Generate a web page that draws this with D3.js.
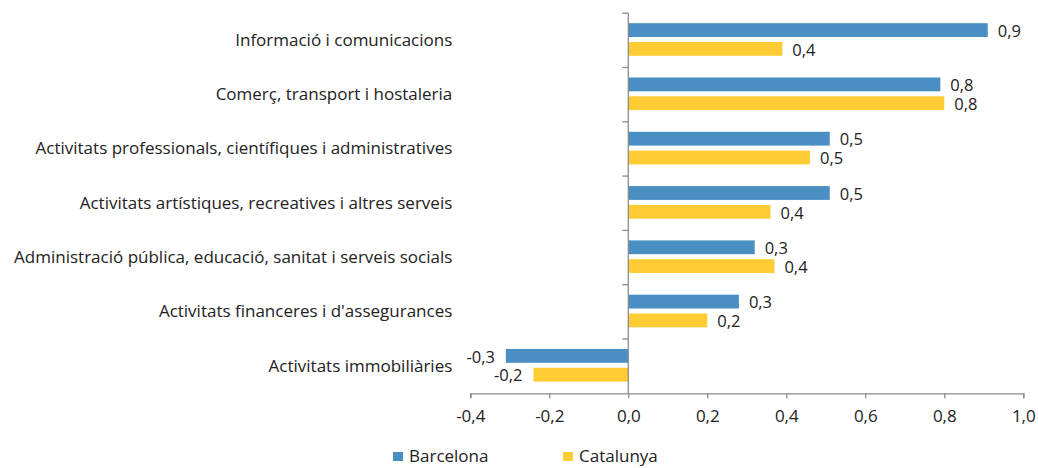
<!DOCTYPE html>
<html>
<head>
<meta charset="utf-8">
<script src="https://cdn.jsdelivr.net/npm/d3@7"></script>
<style>
  html, body { margin: 0; padding: 0; background: #fff; }
  svg { display: block; font-family: "Open Sans", sans-serif; }
  .lbl { font-size: 17px; fill: #222; }
  .val { font-size: 16.5px; fill: #222; }
</style>
</head>
<body>
<svg id="chart" width="1038" height="468"></svg>
<script>
// categories, top to bottom
var categories = [
  "Informació i comunicacions",
  "Comerç, transport i hostaleria",
  "Activitats professionals, científiques i administratives",
  "Activitats artístiques, recreatives i altres serveis",
  "Administració pública, educació, sanitat i serveis socials",
  "Activitats financeres i d'assegurances",
  "Activitats immobiliàries"
]
var seriesNames = ["Barcelona", "Catalunya"]
var barcelona = [0.91, 0.79, 0.51, 0.51, 0.32, 0.28, -0.31]
var catalunya = [0.39, 0.80, 0.46, 0.36, 0.37, 0.20, -0.24]
var xTicks = [-0.4, -0.2, 0.0, 0.2, 0.4, 0.6, 0.8, 1.0]

var colors = { Barcelona: '#4a8fc3', Catalunya: '#ffcc35' }
var axisColor = '#8c8c8c'

var svg = d3.select('#chart')
// excel style: comma decimal, plain hyphen for minus
var fmt = function(v) { return d3.format('.1f')(v).replace('.', ',').replace('\u2212', '-') }

var x = d3.scaleLinear().domain([-0.4, 1.0]).range([470.3, 1023.3])
var y = d3.scaleBand().domain(categories).range([13.2, 393.3]).padding(0)
var ySeries = d3.scaleBand().domain(seriesNames).range([10, 42.6]).paddingInner(0.266)

var rows = categories.map(function(c, i) {
  return { cat: c, values: [
    { name: 'Barcelona', v: barcelona[i] },
    { name: 'Catalunya', v: catalunya[i] }
  ] }
})

// bars
var groups = svg.append('g').selectAll('g')
  .data(rows).join('g')
  .attr('transform', function(d) { return 'translate(0,' + y(d.cat) + ')' })

groups.selectAll('rect')
  .data(function(d) { return d.values }).join('rect')
  .attr('x', function(d) { return x(Math.min(0, d.v)) })
  .attr('width', function(d) { return Math.abs(x(d.v) - x(0)) })
  .attr('y', function(d) { return ySeries(d.name) })
  .attr('height', ySeries.bandwidth())
  .attr('fill', function(d) { return colors[d.name] })

// data labels
groups.selectAll('text')
  .data(function(d) { return d.values }).join('text')
  .attr('class', 'val')
  .attr('x', function(d) { return d.v < 0 ? x(d.v) - 11 : x(d.v) + 10 })
  .attr('y', function(d) { return ySeries(d.name) + ySeries.bandwidth() / 2 + 1 })
  .attr('dy', '0.35em')
  .attr('text-anchor', function(d) { return d.v < 0 ? 'end' : 'start' })
  .text(function(d) { return fmt(d.v) })

// x axis
var xAxis = svg.append('g')
  .attr('transform', 'translate(0,' + 393.3 + ')')
  .call(d3.axisBottom(x).tickValues(xTicks).tickFormat(fmt).tickSize(5).tickSizeOuter(5).tickPadding(12))
  .attr('font-family', null).attr('font-size', null)
xAxis.selectAll('path, line').attr('stroke', axisColor).attr('stroke-width', 1.3)
xAxis.selectAll('text').attr('class', 'lbl')

// y axis line and band boundary ticks
var yAxisG = svg.append('g')
yAxisG.append('line')
  .attr('x1', x(0)).attr('x2', x(0))
  .attr('y1', y.range()[0]).attr('y2', y.range()[1])
  .attr('stroke', axisColor).attr('stroke-width', 1.3)
yAxisG.selectAll('line.tk')
  .data(categories.map(function(c) { return y(c) })).join('line')
  .attr('class', 'tk')
  .attr('x1', x(0) - 6).attr('x2', x(0))
  .attr('y1', function(d) { return d }).attr('y2', function(d) { return d })
  .attr('stroke', axisColor).attr('stroke-width', 1.3)

// category labels
var yLabels = svg.append('g')
  .attr('transform', 'translate(' + x(0) + ',0)')
  .call(d3.axisLeft(y).tickSize(0).tickPadding(176))
  .attr('font-family', null).attr('font-size', null)
yLabels.select('.domain').remove()
yLabels.selectAll('text').attr('class', 'lbl')

// legend
var legend = svg.append('g').attr('transform', 'translate(393,456)')
var legendX = [0, 170]
seriesNames.forEach(function(name, i) {
  var g = legend.append('g').attr('transform', 'translate(' + legendX[i] + ',0)')
  g.append('rect').attr('x', 0).attr('y', -4).attr('width', 10).attr('height', 9).attr('fill', colors[name])
  g.append('text').attr('class', 'lbl').attr('x', 16).attr('y', 0).attr('dy', '0.35em').text(name)
})
</script>
</body>
</html>
